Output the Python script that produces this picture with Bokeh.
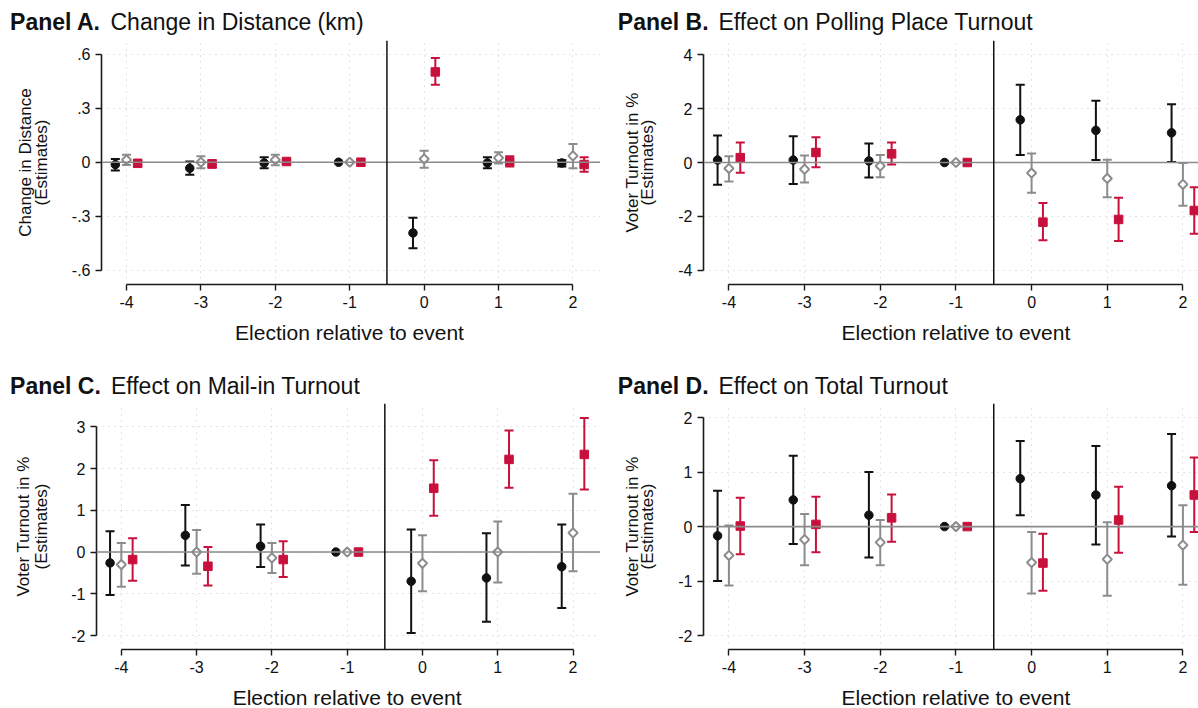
import numpy as np
from bokeh.plotting import figure
from bokeh.models import Span, FixedTicker, Range1d, ColumnDataSource
from bokeh.core.properties import value
from bokeh.layouts import column, row
from bokeh.embed import file_html
from bokeh.resources import INLINE

FONT = "Liberation Sans"
nan = float("nan")

# ---------------- data ----------------
elections = [-4, -3, -2, -1, 0, 1, 2]
x_tick_labels = ["-4", "-3", "-2", "-1", "0", "1", "2"]
x_title = "Election relative to event"

# Panel A: Change in Distance (km)
A_black = [-0.013, -0.033, -0.004, 0.0, -0.392, -0.004, -0.004]
A_black_lo = [-0.046, -0.070, -0.033, nan, -0.477, -0.033, -0.024]
A_black_hi = [0.018, 0.004, 0.028, nan, -0.308, 0.028, 0.013]
A_gray = [0.013, 0.0, 0.013, 0.0, 0.018, 0.024, 0.035]
A_gray_lo = [-0.015, -0.033, -0.017, nan, -0.031, -0.007, -0.033]
A_gray_hi = [0.042, 0.033, 0.042, nan, 0.064, 0.055, 0.101]
A_red = [-0.006, -0.009, 0.004, 0.0, 0.501, 0.004, -0.013]
A_red_lo = [-0.022, -0.031, -0.009, nan, 0.429, -0.024, -0.053]
A_red_hi = [0.007, 0.009, 0.017, nan, 0.578, 0.033, 0.028]
A_yticks = [-0.6, -0.3, 0.0, 0.3, 0.6]
A_ytick_labels = ["-.6", "-.3", "0", ".3", ".6"]

# Panel B: Effect on Polling Place Turnout
B_black = [0.09, 0.09, 0.06, 0.0, 1.58, 1.19, 1.10]
B_black_lo = [-0.82, -0.80, -0.56, nan, 0.28, 0.09, 0.02]
B_black_hi = [1.00, 0.97, 0.70, nan, 2.88, 2.29, 2.16]
B_gray = [-0.22, -0.25, -0.13, 0.0, -0.39, -0.59, -0.81]
B_gray_lo = [-0.70, -0.74, -0.55, nan, -1.12, -1.29, -1.60]
B_gray_hi = [0.23, 0.26, 0.28, nan, 0.33, 0.10, -0.02]
B_red = [0.18, 0.37, 0.32, 0.0, -2.21, -2.11, -1.78]
B_red_lo = [-0.38, -0.18, -0.07, nan, -2.88, -2.91, -2.64]
B_red_hi = [0.74, 0.94, 0.74, nan, -1.50, -1.31, -0.92]
B_yticks = [-4, -2, 0, 2, 4]
B_ytick_labels = ["-4", "-2", "0", "2", "4"]

# Panel C: Effect on Mail-in Turnout
C_black = [-0.26, 0.40, 0.14, 0.0, -0.70, -0.62, -0.35]
C_black_lo = [-1.03, -0.32, -0.36, nan, -1.94, -1.67, -1.34]
C_black_hi = [0.50, 1.13, 0.66, nan, 0.54, 0.45, 0.66]
C_gray = [-0.30, 0.0, -0.14, 0.0, -0.27, 0.0, 0.46]
C_gray_lo = [-0.83, -0.52, -0.50, nan, -0.94, -0.73, -0.46]
C_gray_hi = [0.22, 0.53, 0.22, nan, 0.40, 0.73, 1.40]
C_red = [-0.18, -0.34, -0.18, 0.0, 1.53, 2.22, 2.34]
C_red_lo = [-0.69, -0.80, -0.60, nan, 0.87, 1.54, 1.50]
C_red_hi = [0.33, 0.12, 0.26, nan, 2.20, 2.91, 3.21]
C_yticks = [-2, -1, 0, 1, 2, 3]
C_ytick_labels = ["-2", "-1", "0", "1", "2", "3"]

# Panel D: Effect on Total Turnout
D_black = [-0.17, 0.49, 0.21, 0.0, 0.88, 0.58, 0.75]
D_black_lo = [-1.00, -0.32, -0.57, nan, 0.21, -0.33, -0.18]
D_black_hi = [0.66, 1.30, 1.00, nan, 1.57, 1.48, 1.70]
D_gray = [-0.53, -0.24, -0.29, 0.0, -0.66, -0.60, -0.34]
D_gray_lo = [-1.08, -0.71, -0.71, nan, -1.23, -1.27, -1.07]
D_gray_hi = [0.02, 0.23, 0.12, nan, -0.10, 0.08, 0.39]
D_red = [0.01, 0.04, 0.16, 0.0, -0.67, 0.12, 0.58]
D_red_lo = [-0.51, -0.47, -0.28, nan, -1.18, -0.48, -0.10]
D_red_hi = [0.53, 0.55, 0.59, nan, -0.13, 0.73, 1.27]
D_yticks = [-2, -1, 0, 1, 2]
D_ytick_labels = ["-2", "-1", "0", "1", "2"]

# ---------------- style ----------------
BLACK = "#111111"
GRAY = "#8c8c8c"
RED = "#c8103c"
AXIS = "#1a1a1a"


def text_fig(w, h, bottom=0):
    """A blank strip; its frame covers it (minus `bottom`); data units = pixels (y up)."""
    f = figure(width=w, height=h, output_backend="svg", toolbar_location=None,
               x_range=Range1d(0, w), y_range=Range1d(0, h - bottom),
               x_axis_type=None, y_axis_type=None,
               min_border_left=0, min_border_right=0,
               min_border_top=0, min_border_bottom=bottom)
    f.outline_line_color = None
    f.grid.visible = False
    f.background_fill_color = "white"
    f.border_fill_color = "white"
    return f


def main_fig(series, yticks, ytick_labels, width, height, left, bottom, xr, yr):
    p = figure(width=width, height=height, output_backend="svg",
               toolbar_location=None, title=None,
               x_range=Range1d(*xr), y_range=Range1d(*yr),
               min_border_left=left, min_border_right=0,
               min_border_top=0, min_border_bottom=bottom)
    p.outline_line_color = None
    p.background_fill_color = "white"
    p.border_fill_color = "white"

    p.xaxis.ticker = FixedTicker(ticks=elections)
    p.xaxis.major_label_overrides = {e: s for e, s in zip(elections, x_tick_labels)}
    p.xaxis.bounds = (elections[0], elections[-1])
    p.yaxis.ticker = FixedTicker(ticks=yticks)
    p.yaxis.major_label_overrides = {t: s for t, s in zip(yticks, ytick_labels)}
    p.yaxis.bounds = (yticks[0], yticks[-1])
    for ax in (p.xaxis[0], p.yaxis[0]):
        ax.axis_line_color = AXIS
        ax.axis_line_width = 1.6
        ax.major_tick_line_color = AXIS
        ax.major_tick_line_width = 1.4
        ax.major_tick_in = 0
        ax.major_tick_out = 6
        ax.minor_tick_line_color = None
        ax.major_label_text_font = FONT
        ax.major_label_text_font_size = "16px"
        ax.major_label_text_color = BLACK
        ax.major_label_standoff = 5
    p.xgrid.ticker = FixedTicker(ticks=elections)
    p.ygrid.ticker = FixedTicker(ticks=yticks)
    p.grid.grid_line_color = "#c9c9c9"
    p.grid.grid_line_dash = "1 5"
    p.grid.grid_line_width = 1

    p.add_layout(Span(location=0, dimension="width", line_color="#8a8a8a", line_width=1.6))
    p.add_layout(Span(location=-0.5, dimension="height", line_color=BLACK, line_width=1.5))

    offsets = [-0.15, 0.0, 0.15]
    colors = [BLACK, GRAY, RED]
    sources = []
    for (est, lo, hi), off, col in zip(series, offsets, colors):
        src = ColumnDataSource(dict(
            x=np.array(elections, dtype=float) + off,
            est=np.array(est, dtype=float),
            lo=np.array(lo, dtype=float),
            hi=np.array(hi, dtype=float)))
        sources.append(src)
        p.segment(x0="x", y0="lo", x1="x", y1="hi", source=src, line_color=col, line_width=2)
        p.scatter(x="x", y="lo", marker="dash", size=9, source=src, line_color=col, line_width=2)
        p.scatter(x="x", y="hi", marker="dash", size=9, source=src, line_color=col, line_width=2)
    p.scatter(x="x", y="est", marker="circle", size=8.5, source=sources[0],
              fill_color=BLACK, line_color=BLACK)
    p.scatter(x="x", y="est", marker="square", angle=np.pi / 4, size=6.5, source=sources[1],
              fill_color="white", line_color=GRAY, line_width=2)
    p.scatter(x="x", y="est", marker="square", size=8.5, source=sources[2],
              fill_color=RED, line_color=RED)
    return p


def make_panel(tag, title, ylab1, ylab2, series, yticks, ytick_labels, *,
               width, title_h, frame_h, axis_h, xlab_h, axis_x, xr, yr,
               tag_x, title_x, title_y, ylab_x1, ylab_x2, xlab_x, xlab_y):
    ylab_w = 60
    # title strip (positions measured from the strip's top)
    t = text_fig(width, title_h)
    t.text(x=[tag_x], y=[title_h - title_y], text=[tag], text_font=value(FONT),
           text_font_style="bold", text_font_size="23px", text_color=BLACK,
           text_align="left", text_baseline="middle")
    t.text(x=[title_x], y=[title_h - title_y], text=[title], text_font=value(FONT),
           text_font_size="23px", text_color=BLACK,
           text_align="left", text_baseline="middle")
    # y-axis title strip: its frame lines up with the plotting frame
    ylh = frame_h + axis_h
    yl = text_fig(ylab_w, ylh, bottom=axis_h)
    yl.text(x=[ylab_x1, ylab_x2], y=[frame_h / 2, frame_h / 2], text=[ylab1, ylab2],
            angle=np.pi / 2, text_font=value(FONT), text_font_size="17px",
            text_color=BLACK, text_align="center", text_baseline="middle")
    # plot
    p = main_fig(series, yticks, ytick_labels, width=width - ylab_w,
                 height=ylh, left=axis_x - ylab_w, bottom=axis_h, xr=xr, yr=yr)
    # x-axis title strip
    xl = text_fig(width, xlab_h)
    xl.text(x=[xlab_x], y=[xlab_h - xlab_y], text=[x_title], text_font=value(FONT),
            text_font_size="21px", text_color=BLACK,
            text_align="center", text_baseline="middle")
    return column(t, row(yl, p), xl)


pA = make_panel("Panel A.", "Change in Distance (km)", "Change in Distance", "(Estimates)",
                [(A_black, A_black_lo, A_black_hi), (A_gray, A_gray_lo, A_gray_hi),
                 (A_red, A_red_lo, A_red_hi)], A_yticks, A_ytick_labels,
                width=600, title_h=40, frame_h=244, axis_h=36, xlab_h=36, axis_x=101,
                xr=(-4.336, 2.37), yr=(-0.678, 0.675),
                tag_x=9.6, title_x=110, title_y=21.3,
                ylab_x1=24.5, ylab_x2=41, xlab_x=349, xlab_y=11.7)

pB = make_panel("Panel B.", "Effect on Polling Place Turnout", "Voter Turnout in %", "(Estimates)",
                [(B_black, B_black_lo, B_black_hi), (B_gray, B_gray_lo, B_gray_hi),
                 (B_red, B_red_lo, B_red_hi)], B_yticks, B_ytick_labels,
                width=598, title_h=40, frame_h=244, axis_h=36, xlab_h=36, axis_x=103,
                xr=(-4.336, 2.206), yr=(-4.52, 4.52),
                tag_x=17.3, title_x=118, title_y=21.3,
                ylab_x1=31.7, ylab_x2=46.7, xlab_x=355.4, xlab_y=11.7)

pC = make_panel("Panel C.", "Effect on Mail-in Turnout", "Voter Turnout in %", "(Estimates)",
                [(C_black, C_black_lo, C_black_hi), (C_gray, C_gray_lo, C_gray_hi),
                 (C_red, C_red_lo, C_red_hi)], C_yticks, C_ytick_labels,
                width=600, title_h=47, frame_h=246, axis_h=34, xlab_h=25, axis_x=96,
                xr=(-4.33, 2.365), yr=(-2.335, 3.56),
                tag_x=9.6, title_x=110.4, title_y=29.3,
                ylab_x1=23.4, ylab_x2=40.8, xlab_x=346.6, xlab_y=13.7)

pD = make_panel("Panel D.", "Effect on Total Turnout", "Voter Turnout in %", "(Estimates)",
                [(D_black, D_black_lo, D_black_hi), (D_gray, D_gray_lo, D_gray_hi),
                 (D_red, D_red_lo, D_red_hi)], D_yticks, D_ytick_labels,
                width=598, title_h=47, frame_h=246, axis_h=34, xlab_h=25, axis_x=103,
                xr=(-4.336, 2.206), yr=(-2.257, 2.26),
                tag_x=17.3, title_x=118, title_y=29.3,
                ylab_x1=31.7, ylab_x2=46.7, xlab_x=355.4, xlab_y=13.7)

layout = column(row(pA, pB), row(pC, pD))

open("out.html", "w").write(file_html(layout, INLINE))
